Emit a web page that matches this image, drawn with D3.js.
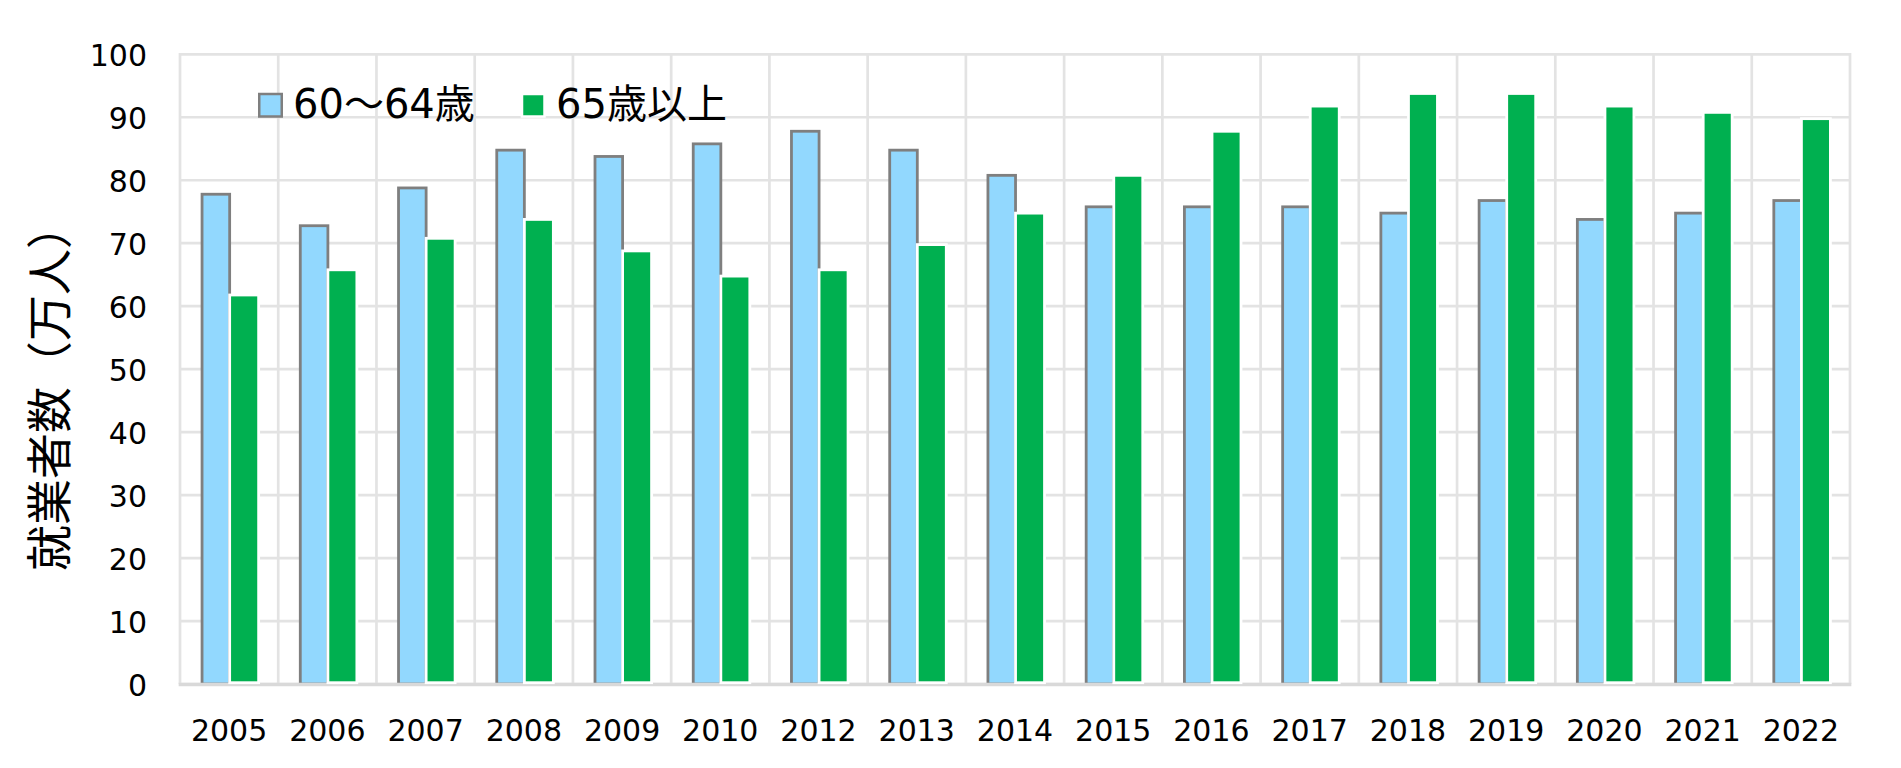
<!DOCTYPE html>
<html>
<head>
<meta charset="utf-8">
<script src="https://cdn.jsdelivr.net/npm/d3@7"></script>
<style>
  html, body { margin: 0; padding: 0; background: #ffffff; }
  svg { display: block; }
</style>
</head>
<body>
<svg id="chart" width="1901" height="768"></svg>
<script>
// ---- data ----
const years = ["2005","2006","2007","2008","2009","2010","2012","2013","2014","2015","2016","2017","2018","2019","2020","2021","2022"];
const age60to64 = [78,73,79,85,84,86,88,85,81,76,76,76,75,77,74,75,77];
const age65plus = [62,66,71,74,69,65,66,70,75,81,88,92,94,94,92,91,90];
const seriesNames = ["60～64歳","65歳以上"];
const yTicks = [0,10,20,30,40,50,60,70,80,90,100];
const yTitle = "就業者数（万人）";

// ---- layout ----
const plot = { left: 180, right: 1850, top: 54.3, bottom: 684 };
const svg = d3.select("#chart");

const x = d3.scaleBand().domain(years).range([plot.left, plot.right]).paddingInner(0).paddingOuter(0);
const y = d3.scaleLinear().domain([0, 100]).range([plot.bottom, plot.top]);
const bw = x.bandwidth();

const gridColor = "#e3e3e3";
const gridW = 2.7;

// horizontal gridlines
svg.append("g").selectAll("line").data(yTicks).join("line")
  .attr("x1", plot.left).attr("x2", plot.right)
  .attr("y1", d => y(d)).attr("y2", d => y(d))
  .attr("stroke", gridColor).attr("stroke-width", gridW);

// vertical gridlines at category boundaries
const bounds = years.map(d => x(d)).concat([plot.right]);
svg.append("g").selectAll("line").data(bounds).join("line")
  .attr("x1", d => d).attr("x2", d => d)
  .attr("y1", plot.top - gridW/2).attr("y2", plot.bottom)
  .attr("stroke", gridColor).attr("stroke-width", gridW);

// bars
const blueFill = "#92d8fe", blueStroke = "#7f7f7f";
const greenFill = "#00b050";
const sw = 2.8;

svg.append("g").selectAll("rect").data(years).join("rect")
  .attr("x", d => x(d) + bw * 0.2245)
  .attr("width", bw * 0.281)
  .attr("y", (d, i) => y(age60to64[i]) + sw/2)
  .attr("height", (d, i) => plot.bottom - (y(age60to64[i]) + sw/2))
  .attr("fill", blueFill).attr("stroke", blueStroke).attr("stroke-width", sw);

// bottom axis line (covers bottom edge of bar strokes)
svg.append("line")
  .attr("x1", plot.left - gridW/2).attr("x2", plot.right + gridW/2)
  .attr("y1", plot.bottom + 0.5).attr("y2", plot.bottom + 0.5)
  .attr("stroke", "#d9d9d9").attr("stroke-width", gridW + 1);

svg.append("g").selectAll("rect").data(years).join("rect")
  .attr("x", d => x(d) + bw * 0.5055)
  .attr("width", bw * 0.295)
  .attr("y", (d, i) => y(age65plus[i]) + sw/2)
  .attr("height", (d, i) => plot.bottom - 1.3 - (y(age65plus[i]) + sw/2))
  .attr("fill", greenFill).attr("stroke", "#ffffff").attr("stroke-width", sw);

// y tick labels
svg.append("g").selectAll("text").data(yTicks).join("text")
  .attr("x", 147).attr("y", d => y(d) + 12)
  .attr("text-anchor", "end")
  .attr("font-family", "'DejaVu Sans', Verdana, sans-serif")
  .attr("font-size", 30).attr("fill", "#000")
  .text(d => d);

// x tick labels
svg.append("g").selectAll("text").data(years).join("text")
  .attr("x", d => x(d) + bw / 2).attr("y", 740.7)
  .attr("text-anchor", "middle")
  .attr("font-family", "'DejaVu Sans', Verdana, sans-serif")
  .attr("font-size", 30).attr("fill", "#000")
  .text(d => d);

// y title
svg.append("text")
  .attr("transform", "translate(46,387) rotate(-90)")
  .attr("text-anchor", "middle")
  .attr("dominant-baseline", "central")
  .attr("font-family", "'Noto Sans CJK JP', sans-serif")
  .attr("font-size", 46).attr("fill", "#000")
  .text(yTitle);

// legend
const legendFont = "'DejaVu Sans', 'Noto Sans CJK JP', sans-serif";
const lg = svg.append("g");
lg.append("rect").attr("x", 259.25).attr("y", 94).attr("width", 22.5).attr("height", 22.5)
  .attr("fill", blueFill).attr("stroke", blueStroke).attr("stroke-width", 2.5);
lg.append("text").attr("x", 293).attr("y", 118)
  .attr("font-family", legendFont).attr("font-size", 40).attr("fill", "#000")
  .text(seriesNames[0]);
lg.append("rect").attr("x", 522).attr("y", 94).attr("width", 22.5).attr("height", 22.5)
  .attr("fill", greenFill).attr("stroke", "#ffffff").attr("stroke-width", 2.5);
lg.append("text").attr("x", 556).attr("y", 118)
  .attr("font-family", legendFont).attr("font-size", 40).attr("fill", "#000")
  .text(seriesNames[1]);
</script>
</body>
</html>
